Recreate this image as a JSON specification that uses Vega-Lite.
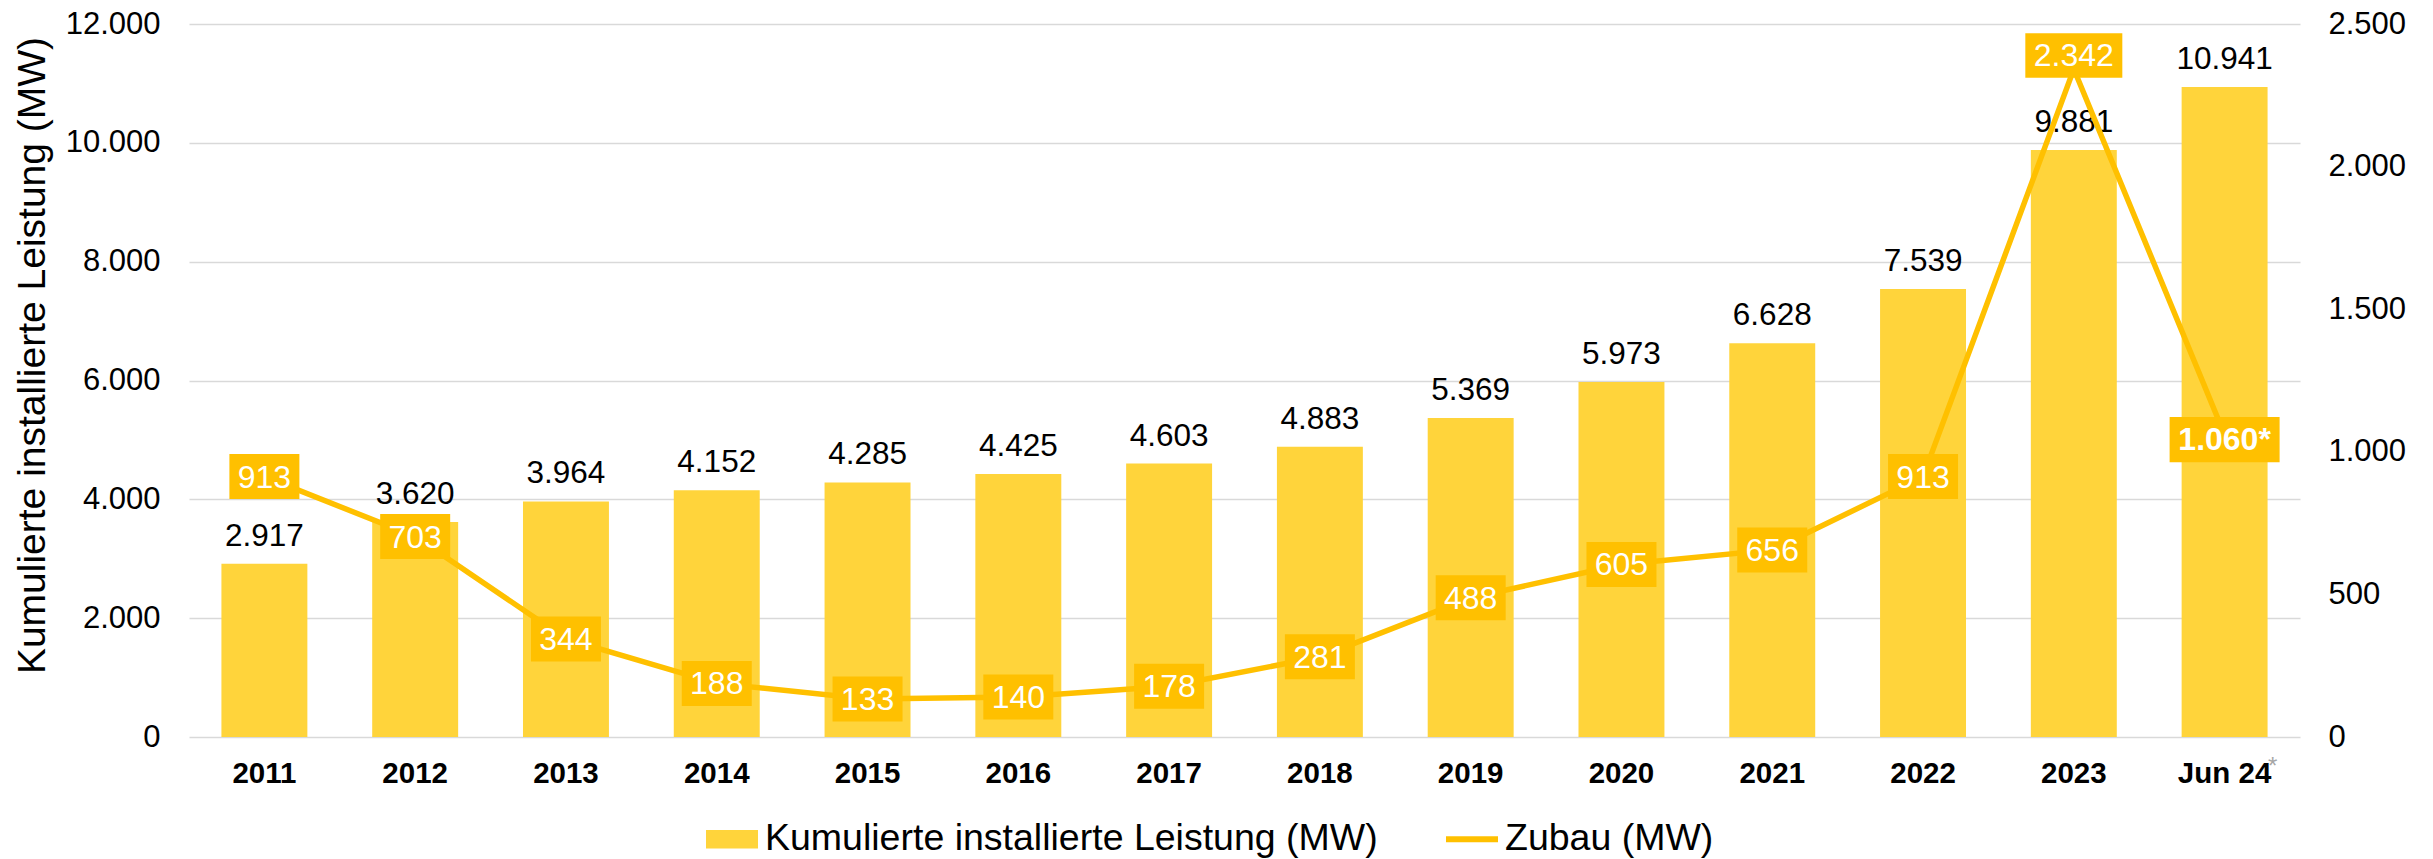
{
  "$schema": "https://vega.github.io/schema/vega-lite/v6.json",
  "autosize": {"type": "none"},
  "padding": {"left": 189, "top": 24, "right": 133, "bottom": 122},
  "width": 2111,
  "height": 713,
  "background": "white",
  "config": {
    "locale": {"number": {"decimal": ",", "thousands": ".", "grouping": [3], "currency": ["", " €"]}},
    "view": {"stroke": null},
    "font": "Liberation Sans",
    "axis": {
      "labelFont": "Liberation Sans",
      "labelFontSize": 31,
      "labelColor": "#000000",
      "domain": false,
      "ticks": false,
      "gridColor": "#D9D9D9",
      "gridWidth": 1.5,
      "titleFont": "Liberation Sans",
      "titleFontWeight": "normal",
      "titleColor": "#000000"
    },
    "legend": {
      "labelFont": "Liberation Sans",
      "labelFontSize": 37.5,
      "labelColor": "#000000",
      "labelLimit": 0
    }
  },
  "data": {
    "values": [
      {"year": "2011", "kum": 2917, "zubau": 913, "zlabel": "913"},
      {"year": "2012", "kum": 3620, "zubau": 703, "zlabel": "703"},
      {"year": "2013", "kum": 3964, "zubau": 344, "zlabel": "344"},
      {"year": "2014", "kum": 4152, "zubau": 188, "zlabel": "188"},
      {"year": "2015", "kum": 4285, "zubau": 133, "zlabel": "133"},
      {"year": "2016", "kum": 4425, "zubau": 140, "zlabel": "140"},
      {"year": "2017", "kum": 4603, "zubau": 178, "zlabel": "178"},
      {"year": "2018", "kum": 4883, "zubau": 281, "zlabel": "281"},
      {"year": "2019", "kum": 5369, "zubau": 488, "zlabel": "488"},
      {"year": "2020", "kum": 5973, "zubau": 605, "zlabel": "605"},
      {"year": "2021", "kum": 6628, "zubau": 656, "zlabel": "656"},
      {"year": "2022", "kum": 7539, "zubau": 913, "zlabel": "913"},
      {"year": "2023", "kum": 9881, "zubau": 2342, "zlabel": "2.342"},
      {"year": "Jun 24", "kum": 10941, "zubau": 1060, "zlabel": "1.060*"}
    ]
  },
  "encoding": {
    "x": {
      "field": "year",
      "type": "nominal",
      "sort": null,
      "scale": {"paddingInner": 0.43, "paddingOuter": 0.215},
      "axis": {"title": null, "labelAngle": 0, "labelFontWeight": "bold", "labelFontSize": 29.5, "labelPadding": 22, "grid": false}
    }
  },
  "layer": [
    {
      "encoding": {
        "y": {
          "field": "kum",
          "type": "quantitative",
          "scale": {"domain": [0, 12000], "nice": false},
          "axis": {
            "orient": "left",
            "title": "Kumulierte installierte Leistung (MW)",
            "titleFontSize": 39,
            "titlePadding": 13,
            "titleY": 331,
            "values": [0, 2000, 4000, 6000, 8000, 10000, 12000],
            "format": ",d",
            "labelPadding": 29,
            "grid": true
          }
        }
      },
      "layer": [
        {
          "mark": {"type": "bar", "color": "#FFD43B"},
          "encoding": {
            "color": {
              "datum": "Kumulierte installierte Leistung (MW)",
              "type": "nominal",
              "scale": {"domain": ["Kumulierte installierte Leistung (MW)", "Zubau (MW)"], "range": ["#FFD43B", "#FFC000"]},
              "legend": {
                "title": null,
                "orient": "none",
                "direction": "horizontal",
                "legendX": 517,
                "legendY": 789,
                "labelOffset": 7,
                "columnPadding": 68,
                "symbolSize": 2704,
                "encode": {
                  "symbols": {
                    "update": {
                      "shape": {"signal": "datum.value === 'Zubau (MW)' ? 'M-1,-0.12H1V0.12H-1Z' : 'M-1,-0.36H1V0.36H-1Z'"},
                      "size": {"value": 2704},
                      "fill": {"signal": "datum.value === 'Zubau (MW)' ? '#FFC000' : '#FFD43B'"},
                      "stroke": {"value": "transparent"},
                      "strokeWidth": {"value": 0},
                      "opacity": {"value": 1},
                      "fillOpacity": {"value": 1}
                    }
                  }
                }
              }
            }
          }
        },
        {
          "mark": {"type": "text", "font": "Liberation Sans", "fontSize": 31.5, "color": "#000000", "baseline": "alphabetic", "dy": -18},
          "encoding": {
            "text": {"field": "kum", "type": "quantitative", "format": ",d"}
          }
        },
        {
          "transform": [{"filter": "datum.year === 'Jun 24'"}],
          "mark": {"type": "text", "text": "*", "font": "Liberation Sans", "fontSize": 24, "color": "#A6A6A6", "baseline": "middle", "dx": 48, "dy": 30},
          "encoding": {"y": {"datum": 0, "type": "quantitative"}}
        }
      ]
    },
    {
      "encoding": {
        "y": {
          "field": "zubau",
          "type": "quantitative",
          "scale": {"domain": [0, 2500], "nice": false},
          "axis": {
            "orient": "right",
            "title": null,
            "values": [0, 500, 1000, 1500, 2000, 2500],
            "format": ",d",
            "labelPadding": 28,
            "grid": false
          }
        }
      },
      "layer": [
        {
          "mark": {"type": "line", "strokeWidth": 5.5, "color": "#FFC000"},
          "encoding": {
            "color": {"datum": "Zubau (MW)", "type": "nominal"}
          }
        },
        {
          "transform": [{"filter": "datum.year !== '2023' && datum.year !== 'Jun 24'"}],
          "mark": {"type": "point", "filled": true, "opacity": 1, "color": "#FFC000", "strokeWidth": 0, "size": 4900, "shape": "M-1,-0.643H1V0.643H-1Z"}
        },
        {
          "transform": [{"filter": "datum.year === '2023'"}],
          "mark": {"type": "point", "filled": true, "opacity": 1, "color": "#FFC000", "strokeWidth": 0, "size": 9409, "shape": "M-1,-0.74H1V0.18H-1Z"}
        },
        {
          "transform": [{"filter": "datum.year === 'Jun 24'"}],
          "mark": {"type": "point", "filled": true, "opacity": 1, "color": "#FFC000", "strokeWidth": 0, "size": 12100, "shape": "M-1,-0.32H1V0.5H-1Z"}
        },
        {
          "transform": [{"filter": "datum.year !== '2023' && datum.year !== 'Jun 24'"}],
          "mark": {"type": "text", "font": "Liberation Sans", "fontSize": 32, "color": "#FFFFFF", "baseline": "middle", "dy": 1},
          "encoding": {"text": {"field": "zlabel"}}
        },
        {
          "transform": [{"filter": "datum.year === '2023'"}],
          "mark": {"type": "text", "font": "Liberation Sans", "fontSize": 32, "color": "#FFFFFF", "baseline": "middle", "dy": -13},
          "encoding": {"text": {"field": "zlabel"}}
        },
        {
          "transform": [{"filter": "datum.year === 'Jun 24'"}],
          "mark": {"type": "text", "font": "Liberation Sans", "fontSize": 32, "fontWeight": "bold", "color": "#FFFFFF", "baseline": "middle", "dy": 5},
          "encoding": {"text": {"field": "zlabel"}}
        }
      ]
    }
  ],
  "resolve": {"scale": {"y": "independent"}}
}
